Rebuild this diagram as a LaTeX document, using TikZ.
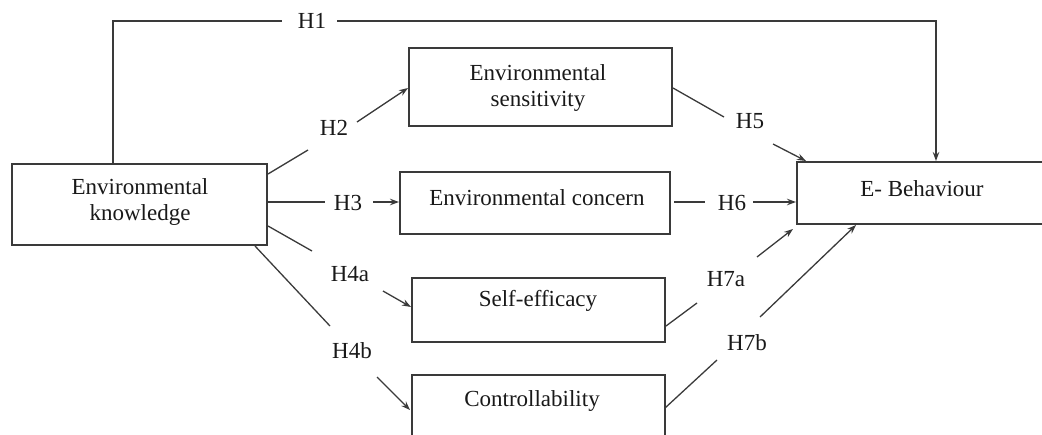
\documentclass[tikz,border=0pt]{standalone}
\usepackage{fontspec}
\setmainfont{Liberation Serif}
\usetikzlibrary{arrows.meta}
\definecolor{ln}{HTML}{3A3A3A}
\begin{document}
\begin{tikzpicture}[x=1pt,y=-1pt,
  box/.style={draw=ln,line width=1.4pt,rectangle,inner sep=0pt},
  txt/.style={font=\fontsize{23}{25.5}\selectfont,align=center,text=black!90,inner sep=0pt},
  hyp/.style={font=\fontsize{23}{25}\selectfont,text=black!90,inner sep=0pt},
  conn/.style={draw=ln,line width=1.3pt},
  arr/.style={conn,-{Stealth[length=9pt,width=6.5pt]}}]
\useasboundingbox (0,0) rectangle (1042,434);
\clip (0,0) rectangle (1042,434);
% boxes
\node[box,minimum width=255pt,minimum height=81pt] (know) at (139.5,204.5) {};
\node[box,minimum width=263pt,minimum height=78pt] (sens) at (540.5,87) {};
\node[box,minimum width=270pt,minimum height=62pt] (conc) at (535,203) {};
\node[box,minimum width=253pt,minimum height=64pt] (self) at (538.5,310) {};
\node[box,minimum width=253pt,minimum height=70pt] (ctrl) at (538.5,410) {};
\node[box,minimum width=263pt,minimum height=62pt] (beh) at (928.5,193) {};
% texts
\node[txt] (tknow) at (140,202) {Environmental\\knowledge};
\node[txt] (tsens) at (538,88) {Environmental\\sensitivity};
\node[txt] (tconc) at (537,198) {Environmental concern};
\node[txt] (tself) at (538,301) {Self-efficacy};
\node[txt] (tctrl) at (532,401) {Controllability};
\node[txt] (tbeh) at (922,189) {E- Behaviour};
% hypothesis labels
\node[hyp] (h1) at (312,21) {H1};
\node[hyp] (h2) at (334,128) {H2};
\node[hyp] (h3) at (348,203) {H3};
\node[hyp] (h4a) at (350,274) {H4a};
\node[hyp] (h4b) at (352,351) {H4b};
\node[hyp] (h5) at (750,121) {H5};
\node[hyp] (h6) at (732,203) {H6};
\node[hyp] (h7a) at (726,279) {H7a};
\node[hyp] (h7b) at (747,343) {H7b};
% coordinates
\coordinate (a1) at (113,164.7);
\coordinate (a1c) at (113,21);
\coordinate (a1e) at (282,21);
\coordinate (b1) at (337,21);
\coordinate (b1c) at (936,21);
\coordinate (b1e) at (936,161);
\coordinate (a2) at (268,174); \coordinate (a2e) at (308,150);
\coordinate (b2) at (357,122); \coordinate (b2e) at (408,88);
\coordinate (a3) at (268,202); \coordinate (a3e) at (325,202);
\coordinate (b3) at (373,202); \coordinate (b3e) at (399,202);
\coordinate (a4) at (268,226); \coordinate (a4e) at (312,251);
\coordinate (b4) at (383,291); \coordinate (b4e) at (411,307);
\coordinate (a4b) at (255,246); \coordinate (a4be) at (330,326);
\coordinate (b4b) at (377,377); \coordinate (b4be) at (410,410);
\coordinate (a5) at (673,88); \coordinate (a5e) at (724,117);
\coordinate (b5) at (773,144); \coordinate (b5e) at (806,161);
\coordinate (a6) at (674,202); \coordinate (a6e) at (705,202);
\coordinate (b6) at (753,202); \coordinate (b6e) at (796,202);
\coordinate (a7) at (666,326); \coordinate (a7e) at (697,303);
\coordinate (b7) at (757,257); \coordinate (b7e) at (793,229);
\coordinate (a7b) at (665,408); \coordinate (a7be) at (717,360);
\coordinate (b7b) at (760,317); \coordinate (b7be) at (856,225);
% connectors
\draw[conn] (a1) -- (a1c) -- (a1e);
\draw[arr] (b1) -- (b1c) -- (b1e);
\draw[conn] (a2) -- (a2e); \draw[arr] (b2) -- (b2e);
\draw[conn] (a3) -- (a3e); \draw[arr] (b3) -- (b3e);
\draw[conn] (a4) -- (a4e); \draw[arr] (b4) -- (b4e);
\draw[conn] (a4b) -- (a4be); \draw[arr] (b4b) -- (b4be);
\draw[conn] (a5) -- (a5e); \draw[arr] (b5) -- (b5e);
\draw[conn] (a6) -- (a6e); \draw[arr] (b6) -- (b6e);
\draw[conn] (a7) -- (a7e); \draw[arr] (b7) -- (b7e);
\draw[conn] (a7b) -- (a7be); \draw[arr] (b7b) -- (b7be);
\end{tikzpicture}
\end{document}
